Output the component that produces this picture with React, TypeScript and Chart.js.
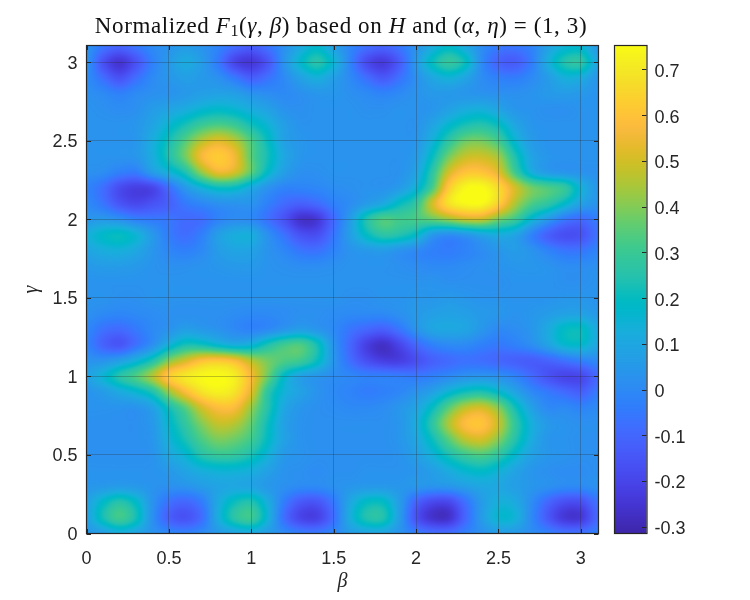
import React, { useEffect, useRef } from "react";
import { Chart, registerables } from "chart.js";

Chart.register(...registerables);

const chartTitle = "Normalized F1(γ, β) based on H and (α, η) = (1, 3)";
const xLabel = "β";
const yLabel = "γ";
const axisMax = 3.107;
const colorMin = -0.3147;
const colorMax = 0.752;

// value x 100, one list per gamma = 0.0, 0.1, ... 3.1; columns are beta = 0.0, 0.1, ... 3.1
const g00 = [4,7,12,9,3,-1,-3,0,5,9,11,6,0,-4,-5,-1,6,9,9,3,-4,-8,-8,-3,2,6,5,1,-3,-7,-7,-3];
const g01 = [8,22,31,22,2,-12,-16,-8,12,26,30,14,-8,-20,-21,-8,12,24,24,6,-16,-26,-26,-10,6,16,14,0,-14,-24,-24,-10];
const g02 = [8,18,25,18,3,-7,-10,-4,11,21,24,12,-4,-14,-15,-5,10,19,19,6,-11,-19,-19,-7,6,13,11,1,-10,-17,-17,-7];
const g03 = [4,5,6,5,3,2,3,6,9,10,9,5,2,0,0,2,4,5,5,4,4,3,4,7,10,10,7,4,2,0,0,2];
const g04 = [3,3,3,3,3,5,9,13,15,15,13,8,3,2,1,2,2,3,3,3,4,7,12,17,19,15,9,4,2,1,1,2];
const g05 = [2,2,2,2,3,10,16,25,29,28,23,14,5,3,2,2,2,2,2,3,7,14,23,30,33,27,17,8,4,3,2,2];
const g06 = [2,2,2,2,4,14,23,33,39,37,31,19,8,3,2,2,2,2,2,4,10,21,35,47,50,40,25,12,4,3,2,2];
const g07 = [2,2,2,2,5,17,28,40,48,46,36,21,8,3,2,2,2,2,2,4,12,27,45,58,60,48,28,13,5,3,2,2];
const g08 = [3,3,3,3,8,22,35,50,58,57,42,25,10,4,2,1,0,0,1,4,9,20,35,47,50,40,22,8,0,0,-2,0];
const g09 = [3,6,11,16,24,42,57,68,72,68,52,27,14,8,3,0,-2,-4,-3,-1,3,8,16,22,24,18,9,0,-5,-9,-12,-5];
const g10 = [8,15,25,33,45,62,70,74,75,71,56,37,18,8,4,1,-1,-3,-3,-4,-5,-3,0,3,4,2,-2,-9,-16,-20,-19,-10];
const g11 = [3,3,7,14,24,40,50,59,61,57,46,38,33,30,20,4,-8,-17,-22,-22,-17,-12,-9,-7,-8,-10,-12,-13,-11,-7,-3,0];
const g12 = [-2,-11,-15,-7,2,14,23,22,17,13,15,24,31,33,22,3,-10,-22,-27,-20,-10,-3,0,0,-3,-5,-3,1,8,16,17,10];
const g13 = [-1,-7,-9,-5,0,3,7,5,3,0,-2,0,4,7,4,0,-6,-10,-12,-6,3,9,10,9,4,0,1,4,11,19,20,11];
const g14 = [2,0,-1,0,1,2,2,2,2,1,0,0,1,2,2,1,0,0,0,2,5,7,8,7,5,4,3,4,6,8,8,5];
const g15 = [3,3,2,2,3,3,3,3,3,3,3,3,3,3,3,3,2,2,3,3,4,4,5,4,3,3,3,3,3,4,4,3];
const g16 = [3,3,3,3,3,3,3,3,3,3,3,3,3,3,3,3,3,3,3,3,3,3,2,2,2,2,3,3,3,2,2,3];
const g17 = [5,6,6,5,3,2,2,3,4,5,5,3,2,1,1,2,3,3,3,2,1,0,0,1,2,3,4,4,3,1,1,2];
const g18 = [9,12,13,10,4,-1,-3,0,6,9,8,3,-1,-6,-7,-2,3,5,6,3,0,-3,-4,-2,1,4,6,3,-2,-6,-6,-2];
const g19 = [13,18,20,15,5,-4,-8,-3,7,12,12,2,-7,-16,-17,-6,7,19,26,24,18,5,1,4,9,12,9,-2,-12,-17,-16,-7];
const g20 = [4,5,2,-3,-5,-6,-9,-8,-2,1,0,-7,-16,-26,-24,-9,6,24,33,31,32,36,42,48,48,38,30,16,5,-5,-9,-4];
const g21 = [0,-6,-15,-19,-16,-12,-5,-1,2,3,3,-3,-9,-12,-9,-3,1,6,11,20,28,50,68,74,74,63,45,33,27,18,8,3];
const g22 = [-2,-8,-18,-22,-20,-8,5,14,20,19,11,3,-2,-2,-1,1,2,3,3,6,15,33,62,74,75,66,50,38,33,28,14,4];
const g23 = [2,1,-3,-4,6,14,24,42,54,50,35,18,7,2,2,3,3,3,3,3,9,27,50,60,60,52,31,13,6,4,3,2];
const g24 = [3,3,3,4,12,24,38,56,62,55,35,22,10,4,3,3,3,3,3,3,6,20,38,48,49,43,24,9,4,3,3,3];
const g25 = [3,3,3,4,12,22,34,46,52,46,33,20,8,4,3,3,3,3,3,3,4,14,27,37,38,31,16,6,3,3,3,3];
const g26 = [3,3,3,4,9,16,23,30,33,30,22,15,7,3,3,3,3,3,3,3,3,9,17,23,25,20,10,4,3,3,3,3];
const g27 = [3,2,1,2,6,9,12,16,18,16,12,8,3,2,3,3,3,2,2,3,3,4,8,12,13,9,4,3,2,2,3,3];
const g28 = [2,0,-3,0,2,3,5,7,8,7,3,1,0,2,4,4,2,0,-2,0,3,5,5,4,3,2,2,3,5,6,5,3];
const g29 = [1,-8,-16,-8,0,4,7,5,2,-5,-12,-7,0,8,13,7,0,-8,-14,-7,2,10,14,9,1,-3,-4,0,6,13,12,4];
const g30 = [3,-16,-25,-16,-3,5,11,6,-5,-20,-24,-15,3,17,25,15,-2,-18,-23,-13,5,20,28,20,0,-11,-13,-4,12,24,26,10];
const g31 = [3,-6,-11,-6,0,3,6,3,-2,-9,-13,-7,2,11,17,8,-1,-8,-11,-6,3,12,18,11,1,-5,-6,-2,8,15,16,5];

const gridRows = [g00,g01,g02,g03,g04,g05,g06,g07,g08,g09,g10,g11,g12,g13,g14,g15,g16,g17,g18,g19,g20,g21,g22,g23,g24,g25,g26,g27,g28,g29,g30,g31];

const parula = [
  [0.2422,0.1504,0.6603],[0.2504,0.1650,0.7076],[0.2578,0.1818,0.7511],[0.2647,0.1978,0.7952],
  [0.2706,0.2147,0.8364],[0.2751,0.2342,0.8710],[0.2783,0.2559,0.8991],[0.2803,0.2782,0.9221],
  [0.2813,0.3006,0.9414],[0.2810,0.3228,0.9579],[0.2795,0.3447,0.9717],[0.2760,0.3667,0.9829],
  [0.2699,0.3892,0.9906],[0.2602,0.4123,0.9952],[0.2440,0.4358,0.9988],[0.2206,0.4603,0.9973],
  [0.1963,0.4847,0.9892],[0.1834,0.5074,0.9798],[0.1786,0.5289,0.9682],[0.1764,0.5499,0.9520],
  [0.1687,0.5703,0.9359],[0.1540,0.5902,0.9218],[0.1460,0.6091,0.9079],[0.1380,0.6276,0.8973],
  [0.1248,0.6459,0.8883],[0.1113,0.6635,0.8763],[0.0952,0.6798,0.8598],[0.0689,0.6948,0.8394],
  [0.0297,0.7082,0.8163],[0.0036,0.7203,0.7917],[0.0067,0.7312,0.7660],[0.0433,0.7411,0.7394],
  [0.0964,0.7500,0.7120],[0.1408,0.7584,0.6842],[0.1717,0.7670,0.6554],[0.1938,0.7758,0.6251],
  [0.2161,0.7843,0.5923],[0.2470,0.7918,0.5567],[0.2906,0.7973,0.5188],[0.3406,0.8008,0.4789],
  [0.3909,0.8029,0.4354],[0.4456,0.8024,0.3909],[0.5044,0.7993,0.3480],[0.5616,0.7942,0.3045],
  [0.6174,0.7876,0.2612],[0.6720,0.7793,0.2227],[0.7242,0.7698,0.1910],[0.7738,0.7598,0.1646],
  [0.8203,0.7498,0.1535],[0.8634,0.7406,0.1596],[0.9035,0.7330,0.1774],[0.9393,0.7288,0.2100],
  [0.9728,0.7298,0.2394],[0.9956,0.7434,0.2371],[0.9970,0.7659,0.2199],[0.9952,0.7893,0.2028],
  [0.9892,0.8136,0.1885],[0.9786,0.8386,0.1766],[0.9676,0.8639,0.1643],[0.9610,0.8890,0.1537],
  [0.9597,0.9135,0.1423],[0.9628,0.9373,0.1265],[0.9691,0.9606,0.1064],[0.9769,0.9839,0.0805],
];

const INK = "#262626";
const SANS = '"Liberation Sans", Arial, sans-serif';
const SERIF = '"Liberation Serif", "Times New Roman", serif';

function colorOf(v: number): [number, number, number] {
  const t = Math.min(1, Math.max(0, (v - colorMin) / (colorMax - colorMin))) * (parula.length - 1);
  const i = Math.min(parula.length - 2, Math.floor(t));
  const f = t - i;
  const a = parula[i], b = parula[i + 1];
  return [
    255 * (a[0] + (b[0] - a[0]) * f),
    255 * (a[1] + (b[1] - a[1]) * f),
    255 * (a[2] + (b[2] - a[2]) * f),
  ];
}

function cubic(p0: number, p1: number, p2: number, p3: number, t: number) {
  return p1 + 0.5 * t * (p2 - p0 + t * (2 * p0 - 5 * p1 + 4 * p2 - p3 + t * (3 * (p1 - p2) + p3 - p0)));
}

function sample(rows: number[][], bx: number, gy: number) {
  const n = rows.length, m = rows[0].length;
  const fx = Math.min(m - 1.0001, Math.max(0, bx * 10));
  const fy = Math.min(n - 1.0001, Math.max(0, gy * 10));
  const ix = Math.floor(fx), iy = Math.floor(fy);
  const tx = fx - ix, ty = fy - iy;
  const col = [0, 0, 0, 0];
  for (let j = -1; j <= 2; j++) {
    const r = rows[Math.min(n - 1, Math.max(0, iy + j))];
    col[j + 1] = cubic(
      r[Math.max(0, ix - 1)], r[ix], r[Math.min(m - 1, ix + 1)], r[Math.min(m - 1, ix + 2)], tx
    );
  }
  return cubic(col[0], col[1], col[2], col[3], ty) / 100;
}

const heatPlugin = {
  id: "heat",
  beforeDraw(chart: any) {
    // nudge the vertical axes' tick labels to sit level with their ticks
    ["y", "cb"].forEach((id) => {
      const s = chart.scales[id];
      const items = s.getLabelItems(chart.chartArea);
      if (!items.__nudged) {
        items.forEach((it: any) => { it.options.translation[1] += id === "y" ? 1.5 : 2.5; });
        items.__nudged = true;
      }
    });
  },
  beforeDatasetsDraw(chart: any) {
    const { ctx, chartArea: a, scales } = chart;
    const L = Math.round(a.left), T = Math.round(a.top);
    const W = Math.round(a.right) - L, H = Math.round(a.bottom) - T;
    const off = document.createElement("canvas");
    off.width = W; off.height = H;
    const oc = off.getContext("2d")!;
    const img = oc.createImageData(W, H);
    for (let py = 0; py < H; py++) {
      const gy = scales.y.getValueForPixel(T + py + 0.5);
      for (let px = 0; px < W; px++) {
        const bx = scales.x.getValueForPixel(L + px + 0.5);
        const c = colorOf(sample(gridRows, bx, gy));
        const k = (py * W + px) * 4;
        img.data[k] = c[0]; img.data[k + 1] = c[1]; img.data[k + 2] = c[2]; img.data[k + 3] = 255;
      }
    }
    oc.putImageData(img, 0, 0);
    ctx.drawImage(off, L, T);
  },
  afterDraw(chart: any) {
    const { ctx, chartArea: a, scales } = chart;
    const line = (x0: number, y0: number, x1: number, y1: number) => {
      ctx.beginPath(); ctx.moveTo(x0, y0); ctx.lineTo(x1, y1); ctx.stroke();
    };
    ctx.save();
    ctx.strokeStyle = INK;
    ctx.lineWidth = 1;
    // inward ticks on all four sides of the plot
    const tl = 4.5;
    scales.x.ticks.forEach((t: any) => {
      const x = Math.round(scales.x.getPixelForValue(t.value)) + 0.5;
      line(x, a.bottom, x, a.bottom - tl);
      line(x, a.top, x, a.top + tl);
    });
    scales.y.ticks.forEach((t: any) => {
      const y = Math.round(scales.y.getPixelForValue(t.value)) + 0.5;
      line(a.left, y, a.left + tl, y);
      line(a.right, y, a.right - tl, y);
    });
    ctx.lineWidth = 1.2;
    ctx.strokeRect(a.left, a.top, a.right - a.left, a.bottom - a.top);

    // colour bar, read through its own axis
    const cb = scales.cb;
    const bl = 614, bw = 32.5;
    for (let py = Math.round(a.top); py < Math.round(a.bottom); py++) {
      const c = colorOf(cb.getValueForPixel(py + 0.5));
      ctx.fillStyle = `rgb(${c[0] | 0},${c[1] | 0},${c[2] | 0})`;
      ctx.fillRect(bl, py, bw, 1);
    }
    ctx.lineWidth = 1;
    cb.ticks.forEach((t: any) => {
      const y = Math.round(cb.getPixelForValue(t.value)) + 0.5;
      line(bl + bw, y, bl + bw - tl, y);
    });
    ctx.lineWidth = 1.2;
    ctx.strokeRect(bl + 0.5, a.top, bw, a.bottom - a.top);

    // title with mathematical italics
    const size = 23;
    const rm = `${size}px ${SERIF}`;
    const it = `italic ${size}px ${SERIF}`;
    const sub = `${size * 0.7}px ${SERIF}`;
    const runs: [string, string, number][] = [
      ["Normalized ", rm, 0], ["F", it, 0], ["1", sub, 3], ["(", rm, 0], ["γ", it, 0], [", ", rm, 0],
      ["β", it, 0], [")", rm, 0], [" based on ", rm, 0], ["H", it, 0], [" and ", rm, 0], ["(", rm, 0],
      ["α", it, 0], [", ", rm, 0], ["η", it, 0], [")", rm, 0], [" = ", rm, 0], ["(1, 3)", rm, 0],
    ];
    ctx.textBaseline = "alphabetic";
    ctx.textAlign = "left";
    ctx.fillStyle = "#111111";
    (ctx as any).letterSpacing = "0.6px";
    let total = 0;
    runs.forEach(([s, f]) => { ctx.font = f; total += ctx.measureText(s).width; });
    let x = 341 - total / 2;
    runs.forEach(([s, f, dy]) => {
      ctx.font = f;
      ctx.fillText(s, x, 33 + dy);
      x += ctx.measureText(s).width;
    });
    ctx.restore();
  },
};

const tickText = (v: number | string) => String(Math.round(Number(v) * 10) / 10);
const noPad = (s: any) => { s.paddingTop = 0; s.paddingBottom = 0; s.paddingLeft = 0; s.paddingRight = 0; };

export default function App() {
  const ref = useRef<HTMLCanvasElement | null>(null);
  useEffect(() => {
    document.body.style.margin = "0";
    const points: { x: number; y: number; v: number }[] = [];
    gridRows.forEach((row, j) =>
      row.forEach((v, i) => points.push({ x: i / 10, y: j / 10, v: v / 100 }))
    );
    const axisTicks = { color: INK, font: { family: SANS, size: 18 }, callback: tickText, includeBounds: false, stepSize: 0.5 };
    const gridStyle = { color: "rgba(38,38,38,0.28)", lineWidth: 1, drawTicks: false, z: 1 };
    const chart = new Chart(ref.current!, {
      type: "scatter",
      data: { datasets: [{ label: chartTitle, data: points, pointRadius: 0, pointHoverRadius: 0, showLine: false }] },
      plugins: [heatPlugin],
      options: {
        animation: false,
        responsive: false,
        devicePixelRatio: 1,
        layout: { padding: { top: 45.5, left: 0, right: 0, bottom: 0 } },
        plugins: { legend: { display: false }, title: { display: false }, tooltip: { enabled: false } },
        scales: {
          x: {
            type: "linear", position: "bottom", min: 0, max: axisMax,
            ticks: { ...axisTicks, padding: 15, maxRotation: 0, autoSkip: false },
            grid: gridStyle, border: { display: false },
            title: { display: true, text: xLabel, color: INK, font: { family: SERIF, size: 20, style: "italic" }, padding: { top: 0, bottom: 6 } },
            afterFit: (s: any) => { s.height = 66.5; noPad(s); },
          },
          y: {
            type: "linear", position: "left", min: 0, max: axisMax,
            ticks: { ...axisTicks, padding: 9, autoSkip: false },
            grid: gridStyle, border: { display: false },
            title: { display: true, text: yLabel, color: INK, font: { family: SERIF, size: 20, style: "italic" }, padding: { top: 20, bottom: 0 } },
            afterFit: (s: any) => { s.width = 86.5; noPad(s); },
          },
          cb: {
            type: "linear", position: "right", min: colorMin, max: colorMax,
            ticks: { color: INK, font: { family: SANS, size: 18 }, callback: tickText, includeBounds: false, stepSize: 0.1, padding: 56, autoSkip: false },
            grid: { display: false, drawTicks: false }, border: { display: false },
            afterFit: (s: any) => { s.width = 151.5; noPad(s); },
          },
        },
      } as any,
    });
    return () => chart.destroy();
  }, []);
  return <canvas ref={ref} width={750} height={600} style={{ display: "block" }} />;
}
